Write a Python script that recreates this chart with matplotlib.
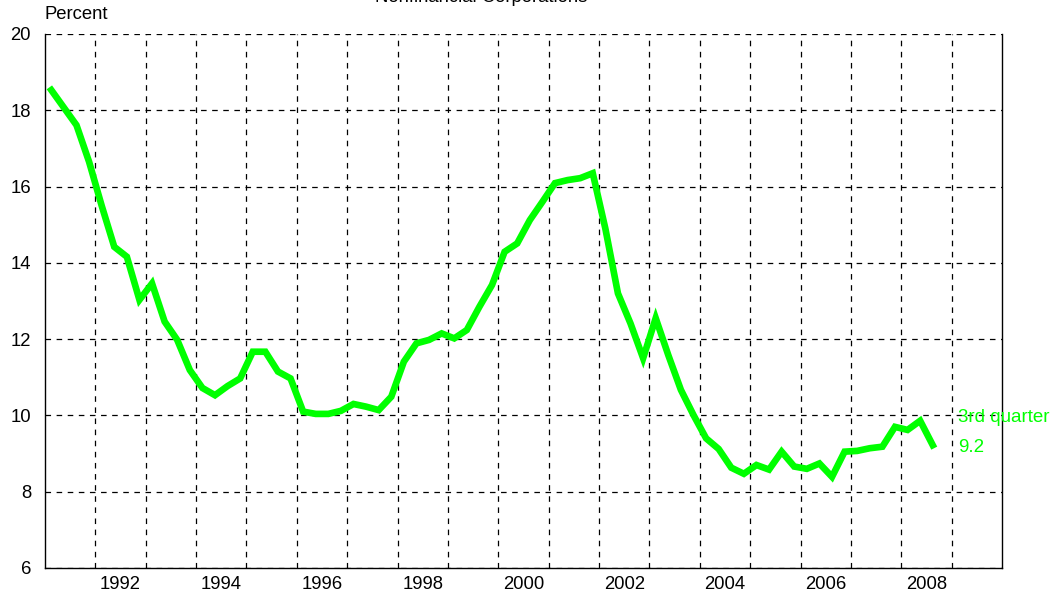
import matplotlib
matplotlib.use("Agg")
import matplotlib.pyplot as plt
import numpy as np

plt.rcParams['font.family'] = ['Liberation Sans', 'DejaVu Sans']
plt.rcParams['lines.scale_dashes'] = False

# Quarterly data, 1991Q1 - 2008Q3 (percent)
years = list(range(1991, 2009))
values = [
    18.53, 18.07, 17.61, 16.65,   # 1991
    15.50, 14.42, 14.16, 13.03,   # 1992
    13.46, 12.46, 11.98, 11.19,   # 1993
    10.72, 10.53, 10.77, 10.97,   # 1994
    11.67, 11.67, 11.15, 10.97,   # 1995
    10.10, 10.04, 10.04, 10.12,   # 1996
    10.30, 10.23, 10.14, 10.49,   # 1997
    11.41, 11.89, 11.98, 12.15,   # 1998
    12.02, 12.24, 12.85, 13.42,   # 1999
    14.29, 14.51, 15.12, 15.60,   # 2000
    16.09, 16.17, 16.22, 16.35,   # 2001
    14.90, 13.20, 12.41, 11.50,   # 2002
    12.55, 11.58, 10.67, 10.01,   # 2003
    9.40, 9.12, 8.63, 8.47,       # 2004
    8.70, 8.58, 9.05, 8.66,       # 2005
    8.60, 8.74, 8.39, 9.05,       # 2006
    9.07, 9.14, 9.18, 9.70,       # 2007
    9.62, 9.86, 9.22,             # 2008
]
x_labels = [str(y) for y in range(1992, 2009, 2)]
y_ticks = [6, 8, 10, 12, 14, 16, 18, 20]

x = np.array([1991 + i / 4 + 0.125 for i in range(len(values))])

green = '#00FF00'
fig = plt.figure(figsize=(10.55, 5.92), dpi=100)
ax = fig.add_axes([45 / 1055, 1 - 568 / 592, (1002 - 45) / 1055, (568 - 34) / 592])

ax.plot(x, values, color=green, linewidth=4.8, solid_joinstyle='miter', zorder=3)

ax.set_xlim(1991, 2010)
ax.set_ylim(6, 20)

# gridlines at year boundaries, labels at mid-year
ax.set_xticks(np.arange(1992, 2010), minor=True)
ax.set_xticks([int(l) + 0.5 for l in x_labels])
ax.set_xticklabels(x_labels)
ax.set_yticks(y_ticks)
ax.set_yticklabels([str(v) for v in y_ticks])
ax.tick_params(axis='both', which='both', length=0, labelsize=13.3, colors='black')
ax.tick_params(axis='y', pad=10)
ax.tick_params(axis='x', pad=6)

ax.grid(False)
ax.xaxis.grid(True, which='minor', color='black', linestyle=(0, (4, 4)), linewidth=0.9)
ax.yaxis.grid(True, which='major', color='black', linestyle=(0, (4, 4)), linewidth=0.9)
ax.set_axisbelow(True)

ax.spines['top'].set_visible(False)
for s in ['left', 'bottom', 'right']:
    ax.spines[s].set_linewidth(1.0)
    ax.spines[s].set_color('black')

ax.text(2009.13, 9.83, '3rd quarter', color=green, fontsize=13.5, va='baseline', ha='left', clip_on=False)
ax.text(2009.13, 9.04, '9.2', color=green, fontsize=13.5, va='baseline', ha='left', clip_on=False)

fig.text(45 / 1055, 1 - 19 / 592, 'Percent', fontsize=13.3, ha='left', va='baseline')
fig.text(375 / 1055, 1 - 2 / 592, 'Nonfinancial Corporations', fontsize=13.3, ha='left', va='baseline')

fig.savefig('out.png', dpi=100)
